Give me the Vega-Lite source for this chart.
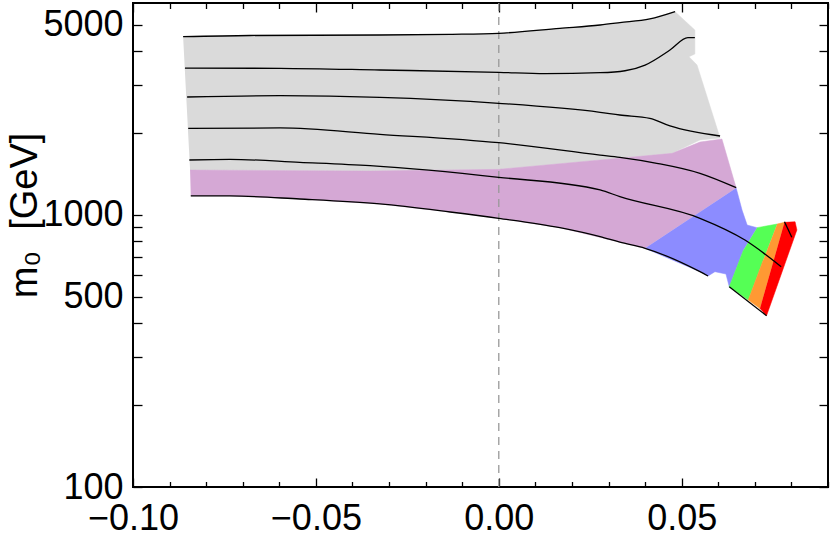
{
  "$schema": "https://vega.github.io/schema/vega-lite/v6.json",
  "width": 695,
  "height": 484,
  "autosize": "none",
  "padding": {"left": 133, "top": 3, "right": 2, "bottom": 48},
  "background": "white",
  "config": {
    "view": {"stroke": "black", "strokeWidth": 2},
    "axis": {
      "domain": false, "grid": false,
      "labelFont": "Liberation Sans", "labelFontSize": 36, "labelColor": "black",
      "tickColor": "black", "tickWidth": 1.3,
      "titleFont": "Liberation Sans", "titleFontSize": 38, "titleFontWeight": "normal", "titleColor": "black",
      "labelOverlap": false, "labelFlush": false
    }
  },
  "datasets": {
    "poly": [
      {"g": "grey", "o": 1, "x": -0.0863, "y": 4512},
      {"g": "grey", "o": 2, "x": -0.068, "y": 4558},
      {"g": "grey", "o": 3, "x": -0.0325, "y": 4577},
      {"g": "grey", "o": 4, "x": -0.0133, "y": 4604},
      {"g": "grey", "o": 5, "x": 0.0, "y": 4644},
      {"g": "grey", "o": 6, "x": 0.0167, "y": 4844},
      {"g": "grey", "o": 7, "x": 0.0277, "y": 4981},
      {"g": "grey", "o": 8, "x": 0.0413, "y": 5241},
      {"g": "grey", "o": 9, "x": 0.0482, "y": 5574},
      {"g": "grey", "o": 10, "x": 0.0536, "y": 4775},
      {"g": "grey", "o": 11, "x": 0.0536, "y": 3897},
      {"g": "grey", "o": 12, "x": 0.052, "y": 3809},
      {"g": "grey", "o": 13, "x": 0.0542, "y": 3550},
      {"g": "grey", "o": 14, "x": 0.0605, "y": 1915},
      {"g": "grey", "o": 15, "x": 0.055, "y": 1883},
      {"g": "grey", "o": 16, "x": 0.0474, "y": 1682},
      {"g": "grey", "o": 17, "x": 0.0277, "y": 1590},
      {"g": "grey", "o": 18, "x": 0.0, "y": 1469},
      {"g": "grey", "o": 19, "x": -0.0352, "y": 1448},
      {"g": "grey", "o": 20, "x": -0.0844, "y": 1460},

      {"g": "purple", "o": 1, "x": -0.0844, "y": 1460},
      {"g": "purple", "o": 2, "x": -0.0352, "y": 1448},
      {"g": "purple", "o": 3, "x": 0.0, "y": 1469},
      {"g": "purple", "o": 4, "x": 0.0277, "y": 1590},
      {"g": "purple", "o": 5, "x": 0.0474, "y": 1682},
      {"g": "purple", "o": 6, "x": 0.055, "y": 1851},
      {"g": "purple", "o": 7, "x": 0.061, "y": 1899},
      {"g": "purple", "o": 8, "x": 0.0649, "y": 1255},
      {"g": "purple", "o": 9, "x": 0.04, "y": 753},
      {"g": "purple", "o": 10, "x": 0.0331, "y": 793},
      {"g": "purple", "o": 11, "x": 0.0167, "y": 897},
      {"g": "purple", "o": 12, "x": 0.0, "y": 971},
      {"g": "purple", "o": 13, "x": -0.0133, "y": 1024},
      {"g": "purple", "o": 14, "x": -0.0325, "y": 1096},
      {"g": "purple", "o": 15, "x": -0.0544, "y": 1143},
      {"g": "purple", "o": 16, "x": -0.0735, "y": 1173},
      {"g": "purple", "o": 17, "x": -0.0842, "y": 1173},

      {"g": "blue", "o": 1, "x": 0.0649, "y": 1255},
      {"g": "blue", "o": 2, "x": 0.0665, "y": 1041},
      {"g": "blue", "o": 3, "x": 0.0679, "y": 917},
      {"g": "blue", "o": 4, "x": 0.0706, "y": 897},
      {"g": "blue", "o": 5, "x": 0.0669, "y": 743},
      {"g": "blue", "o": 6, "x": 0.063, "y": 544},
      {"g": "blue", "o": 7, "x": 0.0621, "y": 606},
      {"g": "blue", "o": 8, "x": 0.0591, "y": 618},
      {"g": "blue", "o": 9, "x": 0.0572, "y": 596},
      {"g": "blue", "o": 10, "x": 0.055, "y": 618},
      {"g": "blue", "o": 11, "x": 0.04, "y": 753},

      {"g": "green", "o": 1, "x": 0.0706, "y": 897},
      {"g": "green", "o": 2, "x": 0.0761, "y": 925},
      {"g": "green", "o": 3, "x": 0.0723, "y": 682},
      {"g": "green", "o": 4, "x": 0.0682, "y": 486},
      {"g": "green", "o": 5, "x": 0.063, "y": 544},
      {"g": "green", "o": 6, "x": 0.0669, "y": 743},

      {"g": "orange", "o": 1, "x": 0.0761, "y": 925},
      {"g": "orange", "o": 2, "x": 0.0781, "y": 938},
      {"g": "orange", "o": 3, "x": 0.0714, "y": 453},
      {"g": "orange", "o": 4, "x": 0.0682, "y": 486},
      {"g": "orange", "o": 5, "x": 0.0723, "y": 682},

      {"g": "red", "o": 1, "x": 0.0781, "y": 938},
      {"g": "red", "o": 2, "x": 0.081, "y": 943},
      {"g": "red", "o": 3, "x": 0.0815, "y": 880},
      {"g": "red", "o": 4, "x": 0.0732, "y": 426},
      {"g": "red", "o": 5, "x": 0.0714, "y": 453}
    ],
    "lines": [
      {"g": "L1", "o": 1, "x": -0.0863, "y": 4512},
      {"g": "L1", "o": 2, "x": -0.068, "y": 4558},
      {"g": "L1", "o": 3, "x": -0.0325, "y": 4577},
      {"g": "L1", "o": 4, "x": -0.0133, "y": 4604},
      {"g": "L1", "o": 5, "x": 0.0, "y": 4644},
      {"g": "L1", "o": 6, "x": 0.0167, "y": 4844},
      {"g": "L1", "o": 7, "x": 0.0277, "y": 4981},
      {"g": "L1", "o": 8, "x": 0.0331, "y": 5079},
      {"g": "L1", "o": 9, "x": 0.0413, "y": 5241},
      {"g": "L1", "o": 10, "x": 0.0482, "y": 5574},

      {"g": "L2", "o": 1, "x": -0.0858, "y": 3461},
      {"g": "L2", "o": 2, "x": -0.0598, "y": 3452},
      {"g": "L2", "o": 3, "x": -0.0325, "y": 3404},
      {"g": "L2", "o": 4, "x": 0.0, "y": 3338},
      {"g": "L2", "o": 5, "x": 0.0126, "y": 3299},
      {"g": "L2", "o": 6, "x": 0.0277, "y": 3327},
      {"g": "L2", "o": 7, "x": 0.0345, "y": 3383},
      {"g": "L2", "o": 8, "x": 0.04, "y": 3550},
      {"g": "L2", "o": 9, "x": 0.0468, "y": 4031},
      {"g": "L2", "o": 10, "x": 0.0517, "y": 4474},
      {"g": "L2", "o": 11, "x": 0.0536, "y": 4474},

      {"g": "L3", "o": 1, "x": -0.0852, "y": 2709},
      {"g": "L3", "o": 2, "x": -0.0598, "y": 2739},
      {"g": "L3", "o": 3, "x": -0.0325, "y": 2702},
      {"g": "L3", "o": 4, "x": 0.0, "y": 2568},
      {"g": "L3", "o": 5, "x": 0.0277, "y": 2380},
      {"g": "L3", "o": 6, "x": 0.0331, "y": 2326},
      {"g": "L3", "o": 7, "x": 0.0413, "y": 2262},
      {"g": "L3", "o": 8, "x": 0.0468, "y": 2120},
      {"g": "L3", "o": 9, "x": 0.0605, "y": 1948},

      {"g": "L4", "o": 1, "x": -0.0849, "y": 2079},
      {"g": "L4", "o": 2, "x": -0.0598, "y": 2085},
      {"g": "L4", "o": 3, "x": -0.0325, "y": 1976},
      {"g": "L4", "o": 4, "x": 0.0, "y": 1840},
      {"g": "L4", "o": 5, "x": 0.0277, "y": 1658},
      {"g": "L4", "o": 6, "x": 0.0331, "y": 1626},
      {"g": "L4", "o": 7, "x": 0.0432, "y": 1546},
      {"g": "L4", "o": 8, "x": 0.055, "y": 1420},
      {"g": "L4", "o": 9, "x": 0.0649, "y": 1258},

      {"g": "L5", "o": 1, "x": -0.0846, "y": 1590},
      {"g": "L5", "o": 2, "x": -0.0735, "y": 1599},
      {"g": "L5", "o": 3, "x": -0.0544, "y": 1559},
      {"g": "L5", "o": 4, "x": -0.0352, "y": 1515},
      {"g": "L5", "o": 5, "x": 0.0, "y": 1373},
      {"g": "L5", "o": 6, "x": 0.0277, "y": 1234},
      {"g": "L5", "o": 7, "x": 0.0331, "y": 1166},
      {"g": "L5", "o": 8, "x": 0.055, "y": 971},
      {"g": "L5", "o": 9, "x": 0.0673, "y": 808},
      {"g": "L5", "o": 10, "x": 0.0772, "y": 645},

      {"g": "L6", "o": 1, "x": -0.0842, "y": 1173},
      {"g": "L6", "o": 2, "x": -0.0735, "y": 1173},
      {"g": "L6", "o": 3, "x": -0.0544, "y": 1143},
      {"g": "L6", "o": 4, "x": -0.0325, "y": 1096},
      {"g": "L6", "o": 5, "x": -0.0133, "y": 1024},
      {"g": "L6", "o": 6, "x": 0.0, "y": 971},
      {"g": "L6", "o": 7, "x": 0.0167, "y": 897},
      {"g": "L6", "o": 8, "x": 0.0277, "y": 831},
      {"g": "L6", "o": 9, "x": 0.0331, "y": 793},
      {"g": "L6", "o": 10, "x": 0.04, "y": 753},
      {"g": "L6", "o": 11, "x": 0.055, "y": 618},
      {"g": "L6", "o": 12, "x": 0.0572, "y": 596},

      {"g": "L7", "o": 1, "x": 0.063, "y": 544},
      {"g": "L7", "o": 2, "x": 0.0732, "y": 426},

      {"g": "L8", "o": 1, "x": 0.0781, "y": 943},
      {"g": "L8", "o": 2, "x": 0.0801, "y": 827}
    ]
  },
  "resolve": {"axis": {"x": "independent", "y": "independent"}},
  "layer": [
    {
      "data": {"name": "poly"},
      "transform": [{"filter": "datum.g == 'grey'"}],
      "mark": {"type": "line", "fill": "#dadada", "stroke": "#dadada", "strokeWidth": 0.5},
      "encoding": {
        "x": {"field": "x", "type": "quantitative", "scale": {"domain": [-0.1, 0.09], "nice": false, "zero": false},
              "axis": {"orient": "bottom", "values": [-0.1, -0.05, 0, 0.05], "format": ".2f", "tickSize": -9, "labelPadding": 23, "title": null}},
        "y": {"field": "y", "type": "quantitative", "scale": {"type": "log", "domain": [100, 6000], "nice": false},
              "axis": {"orient": "left", "values": [100, 200, 300, 400, 500, 600, 700, 800, 900, 1000, 2000, 3000, 4000, 5000],
                       "format": "d", "labelExpr": "indexof([100, 500, 1000, 5000], datum.value) >= 0 ? datum.label : ''",
                       "tickSize": -9, "labelPadding": 19,
                       "title": "m₀\u00a0\u00a0[GeV]", "titleAngle": -90, "titleX": -97, "titleY": 212, "titleAlign": "center", "titleBaseline": "alphabetic"}},
        "order": {"field": "o", "type": "quantitative"}
      }
    },
    {
      "data": {"name": "poly"},
      "transform": [{"filter": "datum.g == 'purple'"}],
      "mark": {"type": "line", "fill": "#d5a8d5", "stroke": "#d5a8d5", "strokeWidth": 0.5},
      "encoding": {
        "x": {"field": "x", "type": "quantitative", "scale": {"domain": [-0.1, 0.09], "nice": false, "zero": false},
              "axis": {"orient": "bottom", "values": [-0.09, -0.08, -0.07, -0.06, -0.04, -0.03, -0.02, -0.01, 0.01, 0.02, 0.03, 0.04, 0.06, 0.07, 0.08, 0.09], "labels": false, "tickSize": -5.5, "title": null}},
        "y": {"field": "y", "type": "quantitative", "scale": {"type": "log", "domain": [100, 6000], "nice": false},
              "axis": {"orient": "right", "values": [100, 200, 300, 400, 500, 600, 700, 800, 900, 1000, 2000, 3000, 4000, 5000], "labels": false, "tickSize": -9, "title": null}},
        "order": {"field": "o", "type": "quantitative"}
      }
    },
    {
      "data": {"name": "poly"},
      "transform": [{"filter": "datum.g == 'blue'"}],
      "mark": {"type": "line", "fill": "#8c8cff", "stroke": "#8c8cff", "strokeWidth": 0.5},
      "encoding": {
        "x": {"field": "x", "type": "quantitative", "scale": {"domain": [-0.1, 0.09], "nice": false, "zero": false},
              "axis": {"orient": "top", "values": [-0.1, -0.05, 0, 0.05], "labels": false, "tickSize": -9, "title": null}},
        "y": {"field": "y", "type": "quantitative", "scale": {"type": "log", "domain": [100, 6000], "nice": false}, "axis": null},
        "order": {"field": "o", "type": "quantitative"}
      }
    },
    {
      "data": {"name": "poly"},
      "transform": [{"filter": "datum.g == 'green'"}],
      "mark": {"type": "line", "fill": "#55ff55", "stroke": "#55ff55", "strokeWidth": 0.5},
      "encoding": {
        "x": {"field": "x", "type": "quantitative", "scale": {"domain": [-0.1, 0.09], "nice": false, "zero": false},
              "axis": {"orient": "top", "values": [-0.09, -0.08, -0.07, -0.06, -0.04, -0.03, -0.02, -0.01, 0.01, 0.02, 0.03, 0.04, 0.06, 0.07, 0.08, 0.09], "labels": false, "tickSize": -5.5, "title": null}},
        "y": {"field": "y", "type": "quantitative", "scale": {"type": "log", "domain": [100, 6000], "nice": false}, "axis": null},
        "order": {"field": "o", "type": "quantitative"}
      }
    },
    {
      "data": {"name": "poly"},
      "transform": [{"filter": "datum.g == 'orange'"}],
      "mark": {"type": "line", "fill": "#ff9933", "stroke": "#ff9933", "strokeWidth": 0.5},
      "encoding": {
        "x": {"field": "x", "type": "quantitative", "scale": {"domain": [-0.1, 0.09], "nice": false, "zero": false}, "axis": null},
        "y": {"field": "y", "type": "quantitative", "scale": {"type": "log", "domain": [100, 6000], "nice": false}, "axis": null},
        "order": {"field": "o", "type": "quantitative"}
      }
    },
    {
      "data": {"name": "poly"},
      "transform": [{"filter": "datum.g == 'red'"}],
      "mark": {"type": "line", "fill": "#ff0000", "stroke": "#ff0000", "strokeWidth": 0.5},
      "encoding": {
        "x": {"field": "x", "type": "quantitative", "scale": {"domain": [-0.1, 0.09], "nice": false, "zero": false}, "axis": null},
        "y": {"field": "y", "type": "quantitative", "scale": {"type": "log", "domain": [100, 6000], "nice": false}, "axis": null},
        "order": {"field": "o", "type": "quantitative"}
      }
    },
    {
      "data": {"values": [{"v": 0}]},
      "mark": {"type": "rule", "color": "#999999", "strokeDash": [8, 6], "strokeWidth": 1.3},
      "encoding": {
        "x": {"field": "v", "type": "quantitative", "scale": {"domain": [-0.1, 0.09], "nice": false, "zero": false}, "axis": null}
      }
    },
    {
      "data": {"name": "lines"},
      "mark": {"type": "line", "color": "black", "strokeWidth": 1.3, "interpolate": "monotone"},
      "encoding": {
        "x": {"field": "x", "type": "quantitative", "scale": {"domain": [-0.1, 0.09], "nice": false, "zero": false}, "axis": null},
        "y": {"field": "y", "type": "quantitative", "scale": {"type": "log", "domain": [100, 6000], "nice": false}, "axis": null},
        "detail": {"field": "g", "type": "nominal"},
        "order": {"field": "o", "type": "quantitative"}
      }
    }
  ]
}
